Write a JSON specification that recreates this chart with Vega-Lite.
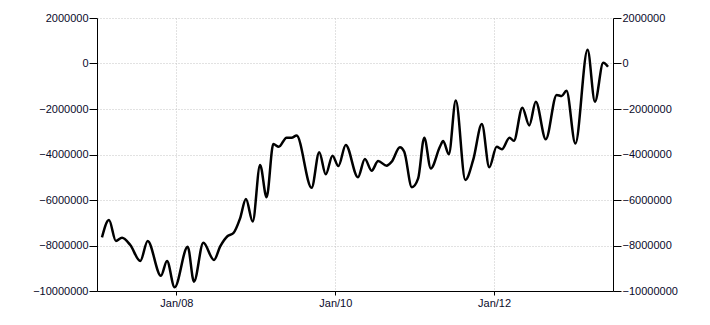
{
  "$schema": "https://vega.github.io/schema/vega-lite/v6.json",
  "width": 516,
  "height": 273,
  "autosize": "none",
  "padding": {"left": 97, "top": 18, "right": 97, "bottom": 34},
  "background": "white",
  "config": {
    "view": {"stroke": null},
    "axis": {
      "domainColor": "#000000",
      "domainWidth": 1,
      "tickColor": "#000000",
      "labelColor": "#0a0a2a",
      "labelFont": "Liberation Sans",
      "labelFontSize": 11,
      "gridColor": "#c4c4c4",
      "gridDash": [1, 2],
      "gridWidth": 1,
      "title": null
    }
  },
  "data": {
    "values": [
      {"date": "2007-01-24", "value": -7640000},
      {"date": "2007-02-25", "value": -6880000},
      {"date": "2007-03-29", "value": -7800000},
      {"date": "2007-04-26", "value": -7660000},
      {"date": "2007-06-03", "value": -7980000},
      {"date": "2007-07-19", "value": -8680000},
      {"date": "2007-08-22", "value": -7800000},
      {"date": "2007-10-22", "value": -9330000},
      {"date": "2007-11-19", "value": -8680000},
      {"date": "2007-12-24", "value": -9840000},
      {"date": "2008-02-22", "value": -8050000},
      {"date": "2008-03-22", "value": -9590000},
      {"date": "2008-05-04", "value": -7880000},
      {"date": "2008-06-22", "value": -8640000},
      {"date": "2008-07-20", "value": -8050000},
      {"date": "2008-08-24", "value": -7580000},
      {"date": "2008-09-19", "value": -7460000},
      {"date": "2008-10-20", "value": -6810000},
      {"date": "2008-11-16", "value": -5960000},
      {"date": "2008-12-17", "value": -6950000},
      {"date": "2009-01-20", "value": -4460000},
      {"date": "2009-02-19", "value": -5880000},
      {"date": "2009-03-22", "value": -3540000},
      {"date": "2009-04-16", "value": -3660000},
      {"date": "2009-05-22", "value": -3260000},
      {"date": "2009-06-14", "value": -3260000},
      {"date": "2009-07-07", "value": -3170000},
      {"date": "2009-09-14", "value": -5460000},
      {"date": "2009-10-19", "value": -3900000},
      {"date": "2009-11-18", "value": -4870000},
      {"date": "2009-12-19", "value": -4050000},
      {"date": "2010-01-15", "value": -4510000},
      {"date": "2010-02-18", "value": -3580000},
      {"date": "2010-04-15", "value": -5000000},
      {"date": "2010-05-17", "value": -4200000},
      {"date": "2010-06-17", "value": -4710000},
      {"date": "2010-07-17", "value": -4290000},
      {"date": "2010-08-25", "value": -4490000},
      {"date": "2010-09-17", "value": -4320000},
      {"date": "2010-10-25", "value": -3680000},
      {"date": "2010-11-14", "value": -3880000},
      {"date": "2010-12-19", "value": -5440000},
      {"date": "2011-01-17", "value": -5050000},
      {"date": "2011-02-14", "value": -3260000},
      {"date": "2011-03-16", "value": -4610000},
      {"date": "2011-04-27", "value": -3660000},
      {"date": "2011-05-12", "value": -3410000},
      {"date": "2011-06-07", "value": -3990000},
      {"date": "2011-07-09", "value": -1630000},
      {"date": "2011-08-22", "value": -5120000},
      {"date": "2011-09-27", "value": -4240000},
      {"date": "2011-11-06", "value": -2660000},
      {"date": "2011-12-10", "value": -4560000},
      {"date": "2012-01-13", "value": -3660000},
      {"date": "2012-02-06", "value": -3770000},
      {"date": "2012-03-12", "value": -3260000},
      {"date": "2012-04-01", "value": -3400000},
      {"date": "2012-05-10", "value": -1940000},
      {"date": "2012-06-11", "value": -2720000},
      {"date": "2012-07-11", "value": -1680000},
      {"date": "2012-08-26", "value": -3330000},
      {"date": "2012-10-15", "value": -1380000},
      {"date": "2012-11-07", "value": -1430000},
      {"date": "2012-11-29", "value": -1200000},
      {"date": "2013-01-09", "value": -3520000},
      {"date": "2013-03-06", "value": 600000},
      {"date": "2013-04-09", "value": -1680000},
      {"date": "2013-05-17", "value": 30000},
      {"date": "2013-06-08", "value": -140000}
    ]
  },
  "encoding": {
    "x": {
      "field": "date",
      "type": "temporal",
      "scale": {
        "type": "utc",
        "domain": [
          {"year": 2007, "month": 1, "date": 1, "utc": true},
          {"year": 2013, "month": 7, "date": 1, "utc": true}
        ]
      },
      "axis": {
        "values": [
          {"year": 2008, "month": 1, "date": 1, "utc": true},
          {"year": 2010, "month": 1, "date": 1, "utc": true},
          {"year": 2012, "month": 1, "date": 1, "utc": true}
        ],
        "format": "%b/%y",
        "grid": true,
        "tickSize": 4,
        "labelPadding": 2,
        "labelFlush": false
      }
    }
  },
  "layer": [
    {
      "mark": {"type": "line", "interpolate": "monotone", "color": "#000000", "strokeWidth": 2.5},
      "encoding": {
        "y": {
          "field": "value",
          "type": "quantitative",
          "scale": {"domain": [-10000000, 2000000], "nice": false, "zero": false},
          "axis": {
            "orient": "left",
            "values": [-10000000, -8000000, -6000000, -4000000, -2000000, 0, 2000000],
            "format": "d",
            "grid": true,
            "tickSize": 8,
            "labelPadding": 1
          }
        }
      }
    },
    {
      "mark": {"type": "line", "interpolate": "monotone", "strokeOpacity": 0},
      "encoding": {
        "y": {
          "field": "value",
          "type": "quantitative",
          "axis": {
            "orient": "right",
            "values": [-10000000, -8000000, -6000000, -4000000, -2000000, 0, 2000000],
            "format": "d",
            "grid": false,
            "tickSize": 8,
            "labelPadding": 1
          }
        }
      }
    }
  ],
  "resolve": {"scale": {"y": "shared"}, "axis": {"y": "independent"}}
}
